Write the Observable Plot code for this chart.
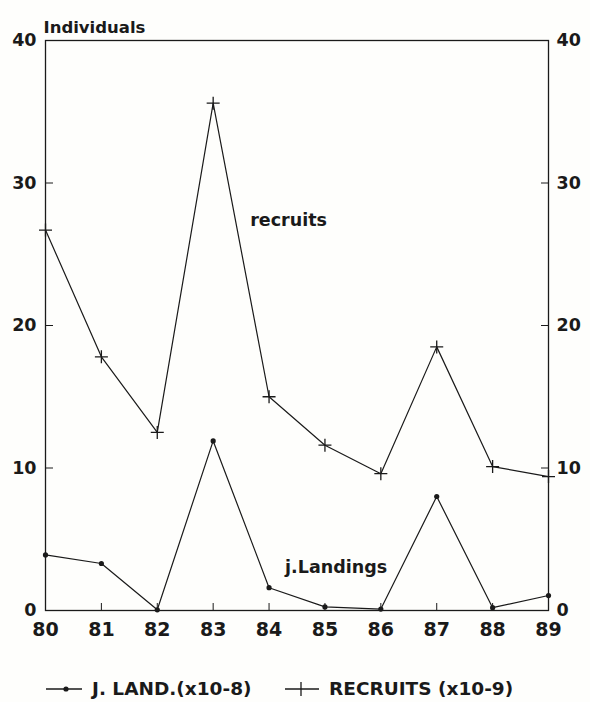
<!DOCTYPE html>
<html>
<head>
<meta charset="utf-8">
<script src="https://cdn.jsdelivr.net/npm/d3@7"></script>
<script src="https://cdn.jsdelivr.net/npm/@observablehq/plot@0.6"></script>
<style>
  html, body { margin: 0; padding: 0; background: #fefefc; }
  #chart svg { display: block; }
  #legend { position: relative; height: 42px; font-family: "DejaVu Sans", sans-serif; font-weight: bold; font-size: 18.5px; color: #1a1a1a; }
  #legend .item { position: absolute; top: 20px; height: 18px; line-height: 18px; display: flex; align-items: center; white-space: nowrap; }
  #legend svg { display: block; margin-right: 10px; }
</style>
</head>
<body>
<div id="chart"></div>
<div id="legend"></div>
<script>
// ---- data ----
const years = [80, 81, 82, 83, 84, 85, 86, 87, 88, 89];
const recruits = [26.7, 17.8, 12.5, 35.6, 15.0, 11.6, 9.6, 18.5, 10.1, 9.4];   // x10^-9
const landings = [3.9, 3.3, 0.05, 11.9, 1.6, 0.25, 0.1, 8.0, 0.2, 1.05];      // x10^-8
const yTicks = [0, 10, 20, 30, 40];
const innerXTicks = [81, 82, 83, 84, 85, 86, 87, 88];
const annotText = ["recruits", "j.Landings"];
const annotX = [84.35, 85.2];
const annotY = [27.4, 3.0];
const yTitle = "Individuals";
const legendLabels = ["J. LAND.(x10-8)", "RECRUITS (x10-9)"];

const recData = years.map((x, i) => ({x, y: recruits[i]}));
const landData = years.map((x, i) => ({x, y: landings[i]}));
const annots = annotText.map((t, i) => ({t, x: annotX[i], y: annotY[i]}));

const ink = "#1a1a1a";
const thinPlus = {
  draw(ctx, size) {
    const r = Math.sqrt(size / Math.PI);
    ctx.moveTo(-r, 0); ctx.lineTo(r, 0);
    ctx.moveTo(0, -r); ctx.lineTo(0, r);
  }
};

const chart = Plot.plot({
  width: 590,
  height: 660,
  marginLeft: 45,
  marginRight: 42,
  marginTop: 40,
  marginBottom: 50,
  x: {domain: [80, 89]},
  y: {domain: [0, 40]},
  style: {fontFamily: "'DejaVu Sans', sans-serif", fontWeight: "bold", color: ink, background: "transparent", overflow: "visible"},
  marks: [
    Plot.frame({stroke: ink, strokeWidth: 1.3}),
    Plot.axisX({ticks: innerXTicks, tickSize: -7, tickFormat: () => "", label: null, stroke: ink}),
    Plot.axisX({ticks: years, tickSize: 0, tickPadding: 12, fontSize: 19, label: null, tickFormat: d => String(d)}),
    Plot.axisY({anchor: "left", ticks: yTicks, tickSize: -8, tickFormat: () => "", label: null, stroke: ink}),
    Plot.axisY({anchor: "left", ticks: yTicks, tickSize: 0, tickPadding: 9, fontSize: 17.5, label: null}),
    Plot.axisY({anchor: "right", ticks: yTicks, tickSize: -8, tickFormat: () => "", label: null, stroke: ink}),
    Plot.axisY({anchor: "right", ticks: yTicks, tickSize: 0, tickPadding: 8, fontSize: 17.5, label: null}),
    Plot.text([yTitle], {frameAnchor: "top-left", dx: -2, dy: -19, textAnchor: "start", fontSize: 16.5, fontWeight: "bold", fill: ink}),
    Plot.line(recData, {x: "x", y: "y", stroke: ink, strokeWidth: 1.2}),
    Plot.dot(recData, {x: "x", y: "y", symbol: thinPlus, r: 6.5, stroke: ink, fill: "none", strokeWidth: 1.3}),
    Plot.line(landData, {x: "x", y: "y", stroke: ink, strokeWidth: 1.2}),
    Plot.dot(landData, {x: "x", y: "y", r: 2.6, fill: ink, stroke: "none"}),
    Plot.text(annots, {x: "x", y: "y", text: "t", fontSize: 17.5, fontWeight: "bold", fill: ink})
  ]
});
document.getElementById("chart").appendChild(chart);

// ---- legend ----
const legend = document.getElementById("legend");
const lefts = [46, 285];
legendLabels.forEach((lab, i) => {
  const item = document.createElement("div");
  item.className = "item";
  item.style.left = lefts[i] + "px";
  const marker = i === 0
    ? '<svg width="36" height="14"><line x1="0" y1="7" x2="36" y2="7" stroke="#1a1a1a" stroke-width="1.3"/><circle cx="20" cy="7" r="2.6" fill="#1a1a1a"/></svg>'
    : '<svg width="34" height="14"><line x1="0" y1="7" x2="34" y2="7" stroke="#1a1a1a" stroke-width="1.3"/><line x1="16" y1="0" x2="16" y2="14" stroke="#1a1a1a" stroke-width="1.3"/></svg>';
  item.innerHTML = marker + "<span>" + lab + "</span>";
  legend.appendChild(item);
});
</script>
</body>
</html>
